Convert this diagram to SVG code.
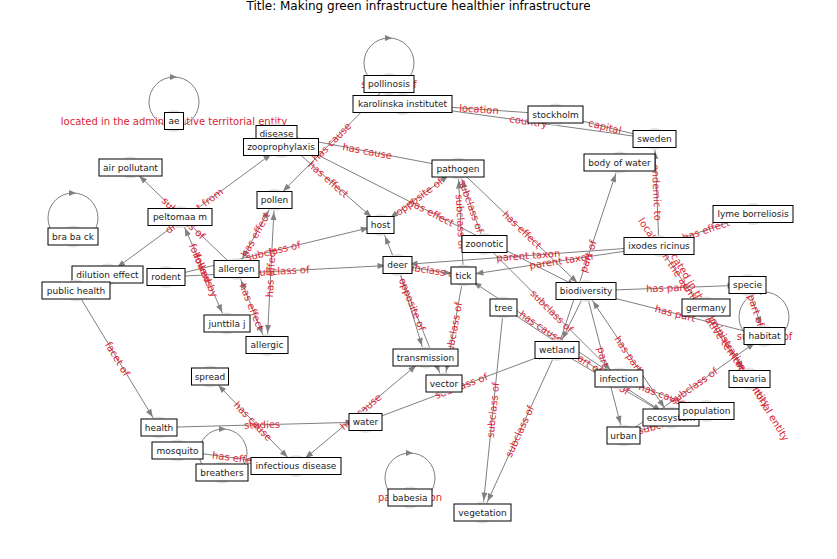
<svg xmlns="http://www.w3.org/2000/svg" width="837" height="559" viewBox="0 0 837 559">
<style>
text{font-family:"DejaVu Sans","Liberation Sans",sans-serif}
.e line{stroke:#808080;stroke-width:1;fill:none}
.loop{stroke:#808080;stroke-width:1;fill:none}
.lh{fill:#808080}
.el{font-size:10px;fill:#dc1e32;text-anchor:middle;dominant-baseline:central}
.nc{fill:#e4e4e4}
.nb{fill:#fff;stroke:#000;stroke-width:1}
.nt{font-size:9px;fill:#222;text-anchor:middle;dominant-baseline:central}
.title{font-size:12px;fill:#000;text-anchor:middle}
</style>
<defs>
<marker id="ah" viewBox="-10 -5 12 10" refX="12" refY="0" markerWidth="12" markerHeight="10" markerUnits="userSpaceOnUse" orient="auto" overflow="visible"><path d="M0,0 L-8,-3 L-8,3 Z" fill="#808080"/></marker>
<marker id="ahs" viewBox="-10 -5 12 10" refX="12" refY="0" markerWidth="12" markerHeight="10" markerUnits="userSpaceOnUse" orient="auto-start-reverse" overflow="visible"><path d="M0,0 L-8,-3 L-8,3 Z" fill="#808080"/></marker>
</defs>
<rect width="837" height="559" fill="#fff"/>
<text class="title" x="418.5" y="10">Title: Making green infrastructure healthier infrastructure</text>

<g id="loops">
<circle class="loop" cx="174" cy="102" r="25"/><path class="lh" d="M177,77 L170,74 L170,80 Z"/>
<circle class="loop" cx="389" cy="63" r="25"/><path class="lh" d="M392,38 L385,35 L385,41 Z"/>
<circle class="loop" cx="73" cy="218" r="25"/><path class="lh" d="M76,193 L69,190 L69,196 Z"/>
<circle class="loop" cx="764" cy="317" r="25"/><path class="lh" d="M767,292 L760,289 L760,295 Z"/>
<circle class="loop" cx="223" cy="453" r="24"/><path class="lh" d="M226,429 L219,426 L219,432 Z"/>
<circle class="loop" cx="410" cy="478" r="25"/><path class="lh" d="M413,453 L406,450 L406,456 Z"/>
</g>

<g id="edges" class="e">
<line x1="402.5" y1="104" x2="555.5" y2="114.5" marker-end="url(#ah)"/>
<line x1="402.5" y1="104" x2="654.5" y2="139" marker-end="url(#ah)"/>
<line x1="555.5" y1="114.5" x2="654.5" y2="139" marker-end="url(#ah)"/>
<line x1="389" y1="84" x2="274.5" y2="200" marker-end="url(#ah)"/>
<line x1="276.5" y1="134" x2="458" y2="168.5" marker-end="url(#ah)"/>
<line x1="276.5" y1="134" x2="380.5" y2="225" marker-end="url(#ah)"/>
<line x1="276.5" y1="134" x2="586" y2="291" marker-end="url(#ah)"/>
<line x1="458" y1="168.5" x2="380.5" y2="225" marker-end="url(#ah)" marker-start="url(#ahs)"/>
<line x1="463.5" y1="275.5" x2="458" y2="168.5" marker-end="url(#ah)"/>
<line x1="484.5" y1="244" x2="458" y2="168.5" marker-end="url(#ah)"/>
<line x1="458" y1="168.5" x2="586" y2="291" marker-end="url(#ah)"/>
<line x1="557" y1="350" x2="619.5" y2="162.5" marker-end="url(#ah)"/>
<line x1="659" y1="246" x2="654.5" y2="139" marker-end="url(#ah)"/>
<line x1="659" y1="246" x2="753" y2="214" marker-end="url(#ah)"/>
<line x1="659" y1="246" x2="463.5" y2="275.5" marker-end="url(#ah)"/>
<line x1="659" y1="246" x2="397.5" y2="265" marker-end="url(#ah)"/>
<line x1="659" y1="246" x2="749.5" y2="379" marker-end="url(#ah)"/>
<line x1="706" y1="307.5" x2="749.5" y2="379" marker-end="url(#ah)"/>
<line x1="107.5" y1="274.5" x2="281" y2="147" marker-end="url(#ah)" marker-start="url(#ahs)"/>
<line x1="236.5" y1="269" x2="130.5" y2="167.5" marker-end="url(#ah)"/>
<line x1="180" y1="217" x2="227" y2="323.5" marker-end="url(#ah)" marker-start="url(#ahs)"/>
<line x1="274.5" y1="200" x2="236.5" y2="269" marker-end="url(#ah)" marker-start="url(#ahs)"/>
<line x1="236.5" y1="269" x2="267" y2="345" marker-end="url(#ah)" marker-start="url(#ahs)"/>
<line x1="274.5" y1="200" x2="267" y2="345" marker-end="url(#ah)" marker-start="url(#ahs)"/>
<line x1="166" y1="277" x2="380.5" y2="225" marker-end="url(#ah)"/>
<line x1="166" y1="277" x2="397.5" y2="265" marker-end="url(#ah)"/>
<line x1="397.5" y1="265" x2="463.5" y2="275.5" marker-end="url(#ah)"/>
<line x1="380.5" y1="225" x2="444" y2="383.5" marker-end="url(#ah)" marker-start="url(#ahs)"/>
<line x1="397.5" y1="265" x2="425.5" y2="357.5" marker-end="url(#ah)"/>
<line x1="463.5" y1="275.5" x2="444" y2="383.5" marker-end="url(#ah)"/>
<line x1="296" y1="466" x2="425.5" y2="357.5" marker-end="url(#ah)" marker-start="url(#ahs)"/>
<line x1="159" y1="427.5" x2="365.5" y2="422" marker-end="url(#ah)"/>
<line x1="76" y1="290.5" x2="159" y2="427.5" marker-end="url(#ah)"/>
<line x1="210" y1="376.5" x2="296" y2="466" marker-end="url(#ah)" marker-start="url(#ahs)"/>
<line x1="177.5" y1="450.5" x2="296" y2="466" marker-end="url(#ah)"/>
<line x1="365.5" y1="422" x2="557" y2="350" marker-end="url(#ah)"/>
<line x1="503.5" y1="307.5" x2="482.5" y2="512.5" marker-end="url(#ah)"/>
<line x1="557" y1="350" x2="482.5" y2="512.5" marker-end="url(#ah)"/>
<line x1="619" y1="378.5" x2="463.5" y2="275.5" marker-end="url(#ah)"/>
<line x1="484.5" y1="244" x2="619" y2="378.5" marker-end="url(#ah)"/>
<line x1="586" y1="291" x2="557" y2="350" marker-end="url(#ah)"/>
<line x1="586" y1="291" x2="747.5" y2="285" marker-end="url(#ah)"/>
<line x1="586" y1="291" x2="764.5" y2="336" marker-end="url(#ah)"/>
<line x1="747.5" y1="285" x2="764.5" y2="336" marker-end="url(#ah)"/>
<line x1="586" y1="291" x2="671" y2="417.5" marker-end="url(#ah)" marker-start="url(#ahs)"/>
<line x1="586" y1="291" x2="623.5" y2="435.5" marker-end="url(#ah)"/>
<line x1="623.5" y1="435.5" x2="764.5" y2="336" marker-end="url(#ah)"/>
<line x1="503.5" y1="307.5" x2="671" y2="417.5" marker-end="url(#ah)"/>
<line x1="557" y1="350" x2="671" y2="417.5" marker-end="url(#ah)"/>
<line x1="619" y1="378.5" x2="706.5" y2="411" marker-end="url(#ah)"/>
<line x1="623.5" y1="435.5" x2="706.5" y2="411" marker-end="url(#ah)"/>
</g>

<g id="edge-labels">
<text class="el" transform="translate(174,121)">located in the administrative territorial entity</text>
<text class="el" transform="translate(389,84)">subclass of</text>
<text class="el" transform="translate(764.5,336)">subclass of</text>
<text class="el" transform="translate(410,497.5)">parent taxon</text>
<text class="el" transform="translate(479,109.25) rotate(3.9)">location</text>
<text class="el" transform="translate(528.5,121.5) rotate(7.9)">country</text>
<text class="el" transform="translate(605,126.75) rotate(13.9)">capital</text>
<text class="el" transform="translate(331.75,142) rotate(-45.4)">has cause</text>
<text class="el" transform="translate(367.25,151.25) rotate(10.8)">has cause</text>
<text class="el" transform="translate(328.5,179.5) rotate(41.2)">has effect</text>
<text class="el" transform="translate(431.25,212.5) rotate(26.9)">has effect</text>
<text class="el" transform="translate(419.25,196.75) rotate(-36.1)">opposite of</text>
<text class="el" transform="translate(460.75,222) rotate(87.1)">subclass of</text>
<text class="el" transform="translate(471.25,206.25) rotate(70.7)">subclass of</text>
<text class="el" transform="translate(522,229.75) rotate(43.7)">has effect</text>
<text class="el" transform="translate(588.25,256.25) rotate(-71.6)">part of</text>
<text class="el" transform="translate(656.75,192.5) rotate(87.6)">endemic to</text>
<text class="el" transform="translate(706,230) rotate(-18.8)">has effect</text>
<text class="el" transform="translate(561.25,260.75) rotate(-8.6)">parent taxon</text>
<text class="el" transform="translate(528.25,255.5) rotate(-4.2)">parent taxon</text>
<text class="el" transform="translate(704.25,312.5) rotate(55.8)">located in the administrative territorial entity</text>
<text class="el" transform="translate(727.75,343.25) rotate(58.7)">located in the administrative territorial entity</text>
<text class="el" transform="translate(194.25,210.75) rotate(-36.3)">different from</text>
<text class="el" transform="translate(183.5,218.25) rotate(43.8)">subclass of</text>
<text class="el" transform="translate(203.5,270.25) rotate(66.2)">follows</text>
<text class="el" transform="translate(203.5,270.25) rotate(66.2)">followed by</text>
<text class="el" transform="translate(255.5,234.5) rotate(-61.2)">has effect</text>
<text class="el" transform="translate(251.75,307) rotate(68.1)">has effect</text>
<text class="el" transform="translate(270.75,272.5) rotate(-87)">has effect</text>
<text class="el" transform="translate(273.25,251) rotate(-13.6)">subclass of</text>
<text class="el" transform="translate(281.75,271) rotate(-3)">subclass of</text>
<text class="el" transform="translate(430.5,270.25) rotate(9)">subclass of</text>
<text class="el" transform="translate(412.25,304.25) rotate(68.2)">opposite of</text>
<text class="el" transform="translate(453.75,329.5) rotate(-79.8)">subclass of</text>
<text class="el" transform="translate(360.75,411.75) rotate(-40)">has cause</text>
<text class="el" transform="translate(262.25,424.75) rotate(-1.5)">studies</text>
<text class="el" transform="translate(117.5,359) rotate(58.8)">facet of</text>
<text class="el" transform="translate(253,421.25) rotate(46.1)">has cause</text>
<text class="el" transform="translate(236.75,458.25) rotate(7.5)">has effect</text>
<text class="el" transform="translate(461.25,386) rotate(-20.6)">subclass of</text>
<text class="el" transform="translate(493,410) rotate(-84.2)">subclass of</text>
<text class="el" transform="translate(519.75,431.25) rotate(-65.4)">subclass of</text>
<text class="el" transform="translate(541.25,327) rotate(33.5)">has cause</text>
<text class="el" transform="translate(551.75,311.25) rotate(45)">subclass of</text>
<text class="el" transform="translate(666.75,288) rotate(-2.1)">has part</text>
<text class="el" transform="translate(675.25,313.5) rotate(14.1)">has part</text>
<text class="el" transform="translate(756,310.5) rotate(71.6)">part of</text>
<text class="el" transform="translate(628.5,354.25) rotate(56.1)">has part</text>
<text class="el" transform="translate(604.75,363.25) rotate(75.5)">part of</text>
<text class="el" transform="translate(694,385.75) rotate(-35.2)">subclass of</text>
<text class="el" transform="translate(587.25,362.5) rotate(33.3)">part of</text>
<text class="el" transform="translate(614,383.75) rotate(30.6)">part of</text>
<text class="el" transform="translate(662.75,394.75) rotate(20.4)">has cause</text>
<text class="el" transform="translate(665,423.25) rotate(-16.4)">subclass of</text>
</g>

<g id="n-ae"><circle class="nc" cx="174" cy="121" r="11"/><rect class="nb" x="164.5" y="112.5" width="19" height="17"/><text class="nt" x="174" y="121">ae</text></g>
<g id="n-pollinosis"><circle class="nc" cx="389" cy="84" r="11"/><rect class="nb" x="364" y="75.5" width="50" height="17"/><text class="nt" x="389" y="84">pollinosis</text></g>
<g id="n-karolinska"><circle class="nc" cx="402.5" cy="104" r="11"/><rect class="nb" x="353" y="95.5" width="99" height="17"/><text class="nt" x="402.5" y="104">karolinska institutet</text></g>
<g id="n-stockholm"><circle class="nc" cx="555.5" cy="114.5" r="11"/><rect class="nb" x="528" y="106" width="55" height="17"/><text class="nt" x="555.5" y="114.5">stockholm</text></g>
<g id="n-sweden"><circle class="nc" cx="654.5" cy="139" r="11"/><rect class="nb" x="633" y="130.5" width="43" height="17"/><text class="nt" x="654.5" y="139">sweden</text></g>
<g id="n-disease"><circle class="nc" cx="276.5" cy="134" r="11"/><rect class="nb" x="256" y="125.5" width="41" height="17"/><text class="nt" x="276.5" y="134">disease</text></g>
<g id="n-zooprophylaxis"><circle class="nc" cx="281" cy="147" r="11"/><rect class="nb" x="243.5" y="138.5" width="75" height="17"/><text class="nt" x="281" y="147">zooprophylaxis</text></g>
<g id="n-air-pollutant"><circle class="nc" cx="130.5" cy="167.5" r="11"/><rect class="nb" x="99" y="159" width="63" height="17"/><text class="nt" x="130.5" y="167.5">air pollutant</text></g>
<g id="n-pathogen"><circle class="nc" cx="458" cy="168.5" r="11"/><rect class="nb" x="432" y="160" width="52" height="17"/><text class="nt" x="458" y="168.5">pathogen</text></g>
<g id="n-body-of-water"><circle class="nc" cx="619.5" cy="162.5" r="11"/><rect class="nb" x="584" y="154" width="71" height="17"/><text class="nt" x="619.5" y="162.5">body of water</text></g>
<g id="n-pollen"><circle class="nc" cx="274.5" cy="200" r="11"/><rect class="nb" x="257" y="191.5" width="35" height="17"/><text class="nt" x="274.5" y="200">pollen</text></g>
<g id="n-peltomaa"><circle class="nc" cx="180" cy="217" r="11"/><rect class="nb" x="148" y="208.5" width="64" height="17"/><text class="nt" x="180" y="217">peltomaa m</text></g>
<g id="n-lyme"><circle class="nc" cx="753" cy="214" r="11"/><rect class="nb" x="713" y="205.5" width="80" height="17"/><text class="nt" x="753" y="214">lyme borreliosis</text></g>
<g id="n-braback"><circle class="nc" cx="73" cy="236.5" r="11"/><rect class="nb" x="48" y="228" width="50" height="17"/><text class="nt" x="73" y="236.5">bra ba ck</text></g>
<g id="n-host"><circle class="nc" cx="380.5" cy="225" r="11"/><rect class="nb" x="367" y="216.5" width="27" height="17"/><text class="nt" x="380.5" y="225">host</text></g>
<g id="n-zoonotic"><circle class="nc" cx="484.5" cy="244" r="11"/><rect class="nb" x="462" y="235.5" width="45" height="17"/><text class="nt" x="484.5" y="244">zoonotic</text></g>
<g id="n-ixodes"><circle class="nc" cx="659" cy="246" r="11"/><rect class="nb" x="624" y="237.5" width="70" height="17"/><text class="nt" x="659" y="246">ixodes ricinus</text></g>
<g id="n-deer"><circle class="nc" cx="397.5" cy="265" r="11"/><rect class="nb" x="383" y="256.5" width="29" height="17"/><text class="nt" x="397.5" y="265">deer</text></g>
<g id="n-dilution"><circle class="nc" cx="107.5" cy="274.5" r="11"/><rect class="nb" x="72" y="266" width="71" height="17"/><text class="nt" x="107.5" y="274.5">dilution effect</text></g>
<g id="n-rodent"><circle class="nc" cx="166" cy="277" r="11"/><rect class="nb" x="147" y="268.5" width="38" height="17"/><text class="nt" x="166" y="277">rodent</text></g>
<g id="n-allergen"><circle class="nc" cx="236.5" cy="269" r="11"/><rect class="nb" x="214" y="260.5" width="45" height="17"/><text class="nt" x="236.5" y="269">allergen</text></g>
<g id="n-tick"><circle class="nc" cx="463.5" cy="275.5" r="11"/><rect class="nb" x="451" y="267" width="25" height="17"/><text class="nt" x="463.5" y="275.5">tick</text></g>
<g id="n-public-health"><circle class="nc" cx="76" cy="290.5" r="11"/><rect class="nb" x="42" y="282" width="68" height="17"/><text class="nt" x="76" y="290.5">public health</text></g>
<g id="n-specie"><circle class="nc" cx="747.5" cy="285" r="11"/><rect class="nb" x="729" y="276.5" width="37" height="17"/><text class="nt" x="747.5" y="285">specie</text></g>
<g id="n-biodiversity"><circle class="nc" cx="586" cy="291" r="11"/><rect class="nb" x="556" y="282.5" width="60" height="17"/><text class="nt" x="586" y="291">biodiversity</text></g>
<g id="n-tree"><circle class="nc" cx="503.5" cy="307.5" r="11"/><rect class="nb" x="490" y="299" width="27" height="17"/><text class="nt" x="503.5" y="307.5">tree</text></g>
<g id="n-germany"><circle class="nc" cx="706" cy="307.5" r="11"/><rect class="nb" x="682" y="299" width="48" height="17"/><text class="nt" x="706" y="307.5">germany</text></g>
<g id="n-junttila"><circle class="nc" cx="227" cy="323.5" r="11"/><rect class="nb" x="204" y="315" width="46" height="17"/><text class="nt" x="227" y="323.5">junttila j</text></g>
<g id="n-habitat"><circle class="nc" cx="764.5" cy="336" r="11"/><rect class="nb" x="744" y="327.5" width="41" height="17"/><text class="nt" x="764.5" y="336">habitat</text></g>
<g id="n-allergic"><circle class="nc" cx="267" cy="345" r="11"/><rect class="nb" x="246" y="336.5" width="42" height="17"/><text class="nt" x="267" y="345">allergic</text></g>
<g id="n-wetland"><circle class="nc" cx="557" cy="350" r="11"/><rect class="nb" x="535" y="341.5" width="44" height="17"/><text class="nt" x="557" y="350">wetland</text></g>
<g id="n-transmission"><circle class="nc" cx="425.5" cy="357.5" r="11"/><rect class="nb" x="393" y="349" width="65" height="17"/><text class="nt" x="425.5" y="357.5">transmission</text></g>
<g id="n-spread"><circle class="nc" cx="210" cy="376.5" r="11"/><rect class="nb" x="191.5" y="368" width="37" height="17"/><text class="nt" x="210" y="376.5">spread</text></g>
<g id="n-infection"><circle class="nc" cx="619" cy="378.5" r="11"/><rect class="nb" x="595" y="370" width="48" height="17"/><text class="nt" x="619" y="378.5">infection</text></g>
<g id="n-bavaria"><circle class="nc" cx="749.5" cy="379" r="11"/><rect class="nb" x="729" y="370.5" width="41" height="17"/><text class="nt" x="749.5" y="379">bavaria</text></g>
<g id="n-vector"><circle class="nc" cx="444" cy="383.5" r="11"/><rect class="nb" x="426" y="375" width="36" height="17"/><text class="nt" x="444" y="383.5">vector</text></g>
<g id="n-ecosystem"><circle class="nc" cx="671" cy="417.5" r="11"/><rect class="nb" x="643" y="409" width="56" height="17"/><text class="nt" x="671" y="417.5">ecosystem</text></g>
<g id="n-population"><circle class="nc" cx="706.5" cy="411" r="11"/><rect class="nb" x="679" y="402.5" width="55" height="17"/><text class="nt" x="706.5" y="411">population</text></g>
<g id="n-water"><circle class="nc" cx="365.5" cy="422" r="11"/><rect class="nb" x="349" y="413.5" width="33" height="17"/><text class="nt" x="365.5" y="422">water</text></g>
<g id="n-health"><circle class="nc" cx="159" cy="427.5" r="11"/><rect class="nb" x="141" y="419" width="36" height="17"/><text class="nt" x="159" y="427.5">health</text></g>
<g id="n-urban"><circle class="nc" cx="623.5" cy="435.5" r="11"/><rect class="nb" x="607" y="427" width="33" height="17"/><text class="nt" x="623.5" y="435.5">urban</text></g>
<g id="n-mosquito"><circle class="nc" cx="177.5" cy="450.5" r="11"/><rect class="nb" x="152" y="442" width="51" height="17"/><text class="nt" x="177.5" y="450.5">mosquito</text></g>
<g id="n-infectious-disease"><circle class="nc" cx="296" cy="466" r="11"/><rect class="nb" x="251" y="457.5" width="90" height="17"/><text class="nt" x="296" y="466">infectious disease</text></g>
<g id="n-breathers"><circle class="nc" cx="222" cy="472.5" r="11"/><rect class="nb" x="196" y="464" width="52" height="17"/><text class="nt" x="222" y="472.5">breathers</text></g>
<g id="n-babesia"><circle class="nc" cx="410" cy="497.5" r="11"/><rect class="nb" x="388" y="489" width="44" height="17"/><text class="nt" x="410" y="497.5">babesia</text></g>
<g id="n-vegetation"><circle class="nc" cx="482.5" cy="512.5" r="11"/><rect class="nb" x="454" y="504" width="57" height="17"/><text class="nt" x="482.5" y="512.5">vegetation</text></g>
</svg>
